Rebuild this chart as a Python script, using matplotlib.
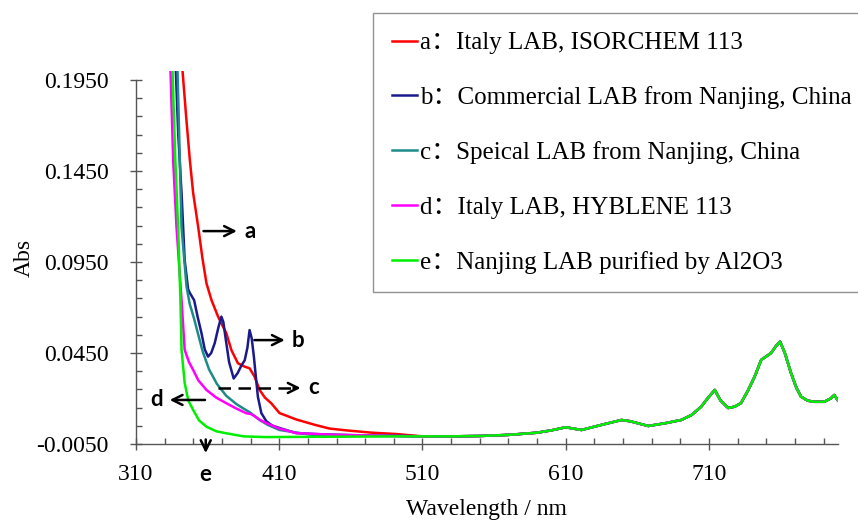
import matplotlib
matplotlib.use("Agg")
import matplotlib.pyplot as plt
from matplotlib.ticker import FixedLocator

# spectra (wavelength nm, absorbance)
tail_nm = [510, 530, 550, 570, 590, 600, 610, 621, 635, 649, 655, 667.7, 680, 690.7, 698,
           704.6, 709, 714.1, 718, 723.4, 728, 732.4, 737, 741.9, 746.5, 753.4, 757, 759.7,
           763, 767.3, 771, 774.3, 779, 783.6, 790.5, 795, 797.5, 800]
tail_abs = [-0.0008, -0.0008, -0.0006, 0.0, 0.0012, 0.0025, 0.0042, 0.0027, 0.0055, 0.0082,
            0.0075, 0.0049, 0.0065, 0.0082, 0.011, 0.0155, 0.02, 0.0247, 0.019, 0.0148, 0.0155,
            0.0175, 0.024, 0.032, 0.0412, 0.045, 0.049, 0.0512, 0.045, 0.034, 0.026, 0.021,
            0.0188, 0.0182, 0.0182, 0.02, 0.0219, 0.019]

a_nm = [340.5, 342.5, 345, 347.6, 349.9, 353.4, 356.4, 359.2, 362.7, 367.3, 373.1, 376.6,
        381.2, 385.9, 389.3, 392.8, 396.3, 400, 404.4, 410.2, 421.8, 435, 445, 456.6, 475, 491.4]
a_abs = [0.235, 0.2, 0.175, 0.151, 0.133, 0.1144, 0.097, 0.0833, 0.0741, 0.065, 0.0558, 0.0466,
         0.0393, 0.0375, 0.0366, 0.032, 0.0247, 0.0205, 0.0174, 0.012, 0.0085, 0.0055, 0.0035,
         0.0025, 0.0012, 0.0005]

b_nm = [335, 337.8, 339.5, 341.8, 344, 346.4, 347.6, 350.6, 353, 355.7, 358, 360.3, 362.5, 365,
        367.5, 369.6, 371, 372.4, 375, 378.2, 381, 383.5, 385.9, 387.8, 389.3, 390.8, 392.3,
        393.8, 395.1, 397.5, 401, 405, 410.2, 421.8, 440, 470, 491]
b_abs = [0.26, 0.2, 0.165, 0.133, 0.096, 0.08, 0.078, 0.074, 0.065, 0.056, 0.047, 0.043, 0.045,
         0.0505, 0.059, 0.065, 0.062, 0.054, 0.04, 0.031, 0.034, 0.038, 0.041, 0.048, 0.0576,
         0.053, 0.043, 0.031, 0.021, 0.012, 0.0075, 0.0052, 0.0038, 0.001, 0.0003, -0.0003,
         -0.0005]

c_nm = [336, 339, 341.8, 345.3, 347.5, 350.5, 353.5, 356.5, 361, 366.5, 373, 380, 385, 389.3,
        396.3, 402, 410.2, 433, 460, 491]
c_abs = [0.26, 0.2, 0.114, 0.0814, 0.072, 0.064, 0.055, 0.046, 0.036, 0.028, 0.0215, 0.017,
         0.0145, 0.0125, 0.0082, 0.0055, 0.0027, 0.0, -0.0005, -0.0006]

d_nm = [332, 334.1, 336, 338.3, 341.8, 344, 347, 349.9, 353.5, 359.2, 366, 373.1, 380, 387,
        390, 392.5, 396, 401, 410, 421.8, 450, 491]
d_abs = [0.26, 0.2, 0.15, 0.114, 0.074, 0.0467, 0.04, 0.0357, 0.03, 0.0247, 0.0205, 0.0174,
         0.0145, 0.0119, 0.0115, 0.0105, 0.0085, 0.0065, 0.0035, 0.001, 0.0, -0.0006]

e_nm = [333, 335.5, 337.5, 339.4, 341, 341.8, 344, 346.5, 349.9, 354, 359.2, 366, 373, 385,
        400, 450, 491]
e_abs = [0.26, 0.2, 0.15, 0.114, 0.075, 0.0467, 0.0285, 0.019, 0.0137, 0.008, 0.0045, 0.002,
         0.0009, -0.0008, -0.0012, -0.001, -0.0008]

labels = ["a\uff1aItaly LAB, ISORCHEM 113",
          "b\uff1aCommercial LAB from Nanjing, China",
          "c\uff1aSpeical LAB from Nanjing, China",
          "d\uff1aItaly LAB, HYBLENE 113",
          "e\uff1aNanjing LAB purified by Al2O3"]
colors = ["#ff0000", "#1a1a8c", "#1f8a8a", "#ff00ff", "#00ee00"]
series = [(a_nm, a_abs), (b_nm, b_abs), (c_nm, c_abs), (d_nm, d_abs), (e_nm, e_abs)]

serif = ["Liberation Serif", "Noto Sans CJK SC"]
plt.rcParams["font.family"] = serif

fig = plt.figure(figsize=(8.58, 5.21), dpi=100)
ax = fig.add_axes([0.1585, 0.1478, 0.818, 0.716])

lines = []
for (xs, ys), col, lab in zip(series, colors, labels):
    ln, = ax.plot(xs + tail_nm, ys + tail_abs, color=col, lw=1.8, label=lab)
    lines.append(ln)

ax.set_xlim(310, 800)
ax.set_ylim(-0.005, 0.2)
ax.spines["top"].set_visible(False)
ax.spines["right"].set_visible(False)
ax.spines["left"].set_bounds(-0.005, 0.195)
for s in ["left", "bottom"]:
    ax.spines[s].set_color("#555555")
    ax.spines[s].set_linewidth(1.0)

ax.xaxis.set_major_locator(FixedLocator([310, 410, 510, 610, 710]))
ax.xaxis.set_minor_locator(FixedLocator(list(range(330, 800, 20))))
ax.yaxis.set_major_locator(FixedLocator([-0.005, 0.045, 0.095, 0.145, 0.195]))
ax.yaxis.set_minor_locator(FixedLocator([-0.005 + 0.01 * i for i in range(21)]))
ax.set_yticklabels(["-0.0050", "0.0450", "0.0950", "0.1450", "0.1950"])
ax.tick_params(which="major", direction="inout", length=9, width=1, color="#555555",
               labelsize=17)
ax.tick_params(which="minor", direction="in", length=4, width=1, color="#555555")
ax.tick_params(axis="y", which="major", pad=15)
ax.tick_params(axis="x", which="major", pad=10)

ax.set_xlabel("Wavelength / nm", fontsize=17, labelpad=10)
ax.set_ylabel("Abs", fontsize=17, labelpad=1)

leg = fig.legend(handles=lines, loc="upper left", bbox_to_anchor=(373 / 858, 1 - 13 / 521),
                 prop={"family": serif, "size": 18}, handlelength=1.0, handletextpad=0.12,
                 labelspacing=1.28, borderpad=0.75, borderaxespad=0, frameon=True,
                 fancybox=False)
leg.get_frame().set_edgecolor("#777777")
leg.get_frame().set_linewidth(1.0)
for h in leg.get_lines():
    h.set_linewidth(1.8)

# arrow annotations
akw = dict(arrowstyle="->", color="black", lw=1.8, mutation_scale=18)
tkw = dict(fontsize=16, fontweight="bold", family="Lato", va="center")
ax.annotate("", xy=(382.4, 0.112), xytext=(355.2, 0.112), arrowprops=akw, annotation_clip=False)
ax.text(385.5, 0.112, "a", **tkw)
ax.annotate("", xy=(415.8, 0.0521), xytext=(390.7, 0.0521), arrowprops=akw, annotation_clip=False)
ax.text(419, 0.0521, "b", **tkw)
ax.plot([367.1, 420], [0.0258, 0.0258], color="black", lw=1.8, ls=(0, (5, 3)))
ax.annotate("", xy=(426.9, 0.0258), xytext=(418, 0.0258), arrowprops=akw, annotation_clip=False)
ax.text(430, 0.0258, "c", **tkw)
ax.annotate("", xy=(331.6, 0.0192), xytext=(360.1, 0.0192), arrowprops=akw, annotation_clip=False)
ax.text(328.5, 0.0192, "d", ha="right", **tkw)
ax.annotate("", xy=(358.7, -0.0115), xytext=(358.7, -0.001), arrowprops=akw, annotation_clip=False)
ax.text(358.7, -0.022, "e", ha="center", **tkw)

fig.savefig("out.png", dpi=100)
